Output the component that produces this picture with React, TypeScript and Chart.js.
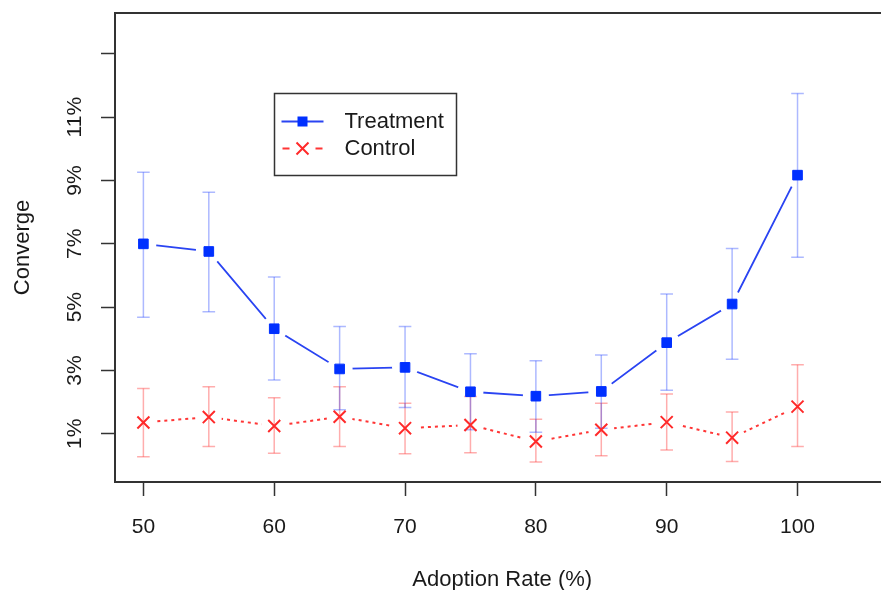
import React, { useEffect, useRef } from 'react';
import { Chart, registerables } from 'chart.js';

Chart.register(...registerables);

// ---- data ----
const adoptionRates = [50, 55, 60, 65, 70, 75, 80, 85, 90, 95, 100];
const treatmentMean = [7.0, 6.76, 4.32, 3.05, 3.1, 2.33, 2.19, 2.34, 3.88, 5.1, 9.17];
const treatmentLow = [4.68, 4.86, 2.7, 1.76, 1.83, 1.13, 1.05, 1.18, 2.38, 3.36, 6.58];
const treatmentHigh = [9.26, 8.63, 5.95, 4.39, 4.39, 3.53, 3.31, 3.49, 5.42, 6.85, 11.75];
const controlMean = [1.36, 1.53, 1.25, 1.54, 1.18, 1.28, 0.76, 1.13, 1.37, 0.88, 1.86];
const controlLow = [0.28, 0.6, 0.39, 0.6, 0.37, 0.4, 0.11, 0.31, 0.49, 0.13, 0.6];
const controlHigh = [2.43, 2.49, 2.14, 2.49, 1.97, 2.18, 1.46, 1.97, 2.26, 1.69, 3.18];
const xTicks = [50, 60, 70, 80, 90, 100];
const yTicks = [1, 3, 5, 7, 9, 11, 13];
const yTickLabels = ['1%', '3%', '5%', '7%', '9%', '11%', ''];
const seriesNames = ['Treatment', 'Control'];
const xTitle = 'Adoption Rate (%)';
const yTitle = 'Converge';

// ---- styles ----
const FONT = "'Liberation Sans', Arial, Helvetica, sans-serif";
const BLUE_MARK = '#0030ff';
const BLUE_LINE = '#2a44f2';
const BLUE_ERR = 'rgba(40,70,255,0.38)';
const RED_MARK = '#ff2a2a';
const RED_LINE = '#ff3535';
const RED_ERR = 'rgba(255,60,60,0.42)';
const AXIS_COLOR = '#333333';
const TEXT_COLOR = '#1a1a1a';
const GAP_RADIUS = 13;

const pts = (ys: number[]) => adoptionRates.map((x, i) => ({ x, y: ys[i] }));
const errPts = (lo: number[], hi: number[]) => {
  const out: { x: number; y: number | null }[] = [];
  adoptionRates.forEach((x, i) => {
    out.push({ x, y: lo[i] });
    out.push({ x, y: hi[i] });
    out.push({ x, y: null });
  });
  return out;
};

const zeroPad = (s: any) => {
  s.paddingTop = 0;
  s.paddingBottom = 0;
  s.paddingLeft = 0;
  s.paddingRight = 0;
};

// R's type = "b": the connecting line stops short of each point
const gapPlugin = {
  id: 'rGaps',
  afterDatasetDraw(chart: any, args: any) {
    if (args.index !== 0 && args.index !== 1) return;
    const { ctx, chartArea } = chart;
    const meta = chart.getDatasetMeta(args.index);
    ctx.save();
    ctx.beginPath();
    ctx.rect(chartArea.left + 1, chartArea.top + 1, chartArea.width - 2, chartArea.height - 2);
    ctx.clip();
    ctx.fillStyle = '#ffffff';
    meta.data.forEach((el: any) => {
      ctx.beginPath();
      ctx.arc(el.x, el.y, GAP_RADIUS, 0, Math.PI * 2);
      ctx.fill();
    });
    ctx.restore();
  },
};

const legendPlugin = {
  id: 'rLegend',
  afterDraw(chart: any) {
    const { ctx, scales } = chart;
    const left = Math.round(scales.x.getPixelForValue(59.95)) + 0.5;
    const top = Math.round(scales.y.getPixelForValue(11.77)) + 0.5;
    const w = 182;
    const h = 82;
    ctx.save();
    ctx.fillStyle = '#ffffff';
    ctx.fillRect(left, top, w, h);
    ctx.strokeStyle = AXIS_COLOR;
    ctx.lineWidth = 1.5;
    ctx.strokeRect(left, top, w, h);
    const rows = [top + 28, top + 55];
    const sx0 = left + 7;
    const sx1 = left + 49;
    const cx = left + 28;
    // Treatment
    ctx.strokeStyle = BLUE_LINE;
    ctx.lineWidth = 1.8;
    ctx.beginPath();
    ctx.moveTo(sx0, rows[0]);
    ctx.lineTo(sx1, rows[0]);
    ctx.stroke();
    ctx.fillStyle = BLUE_MARK;
    ctx.fillRect(cx - 5, rows[0] - 5, 10, 10);
    // Control
    ctx.strokeStyle = RED_LINE;
    ctx.lineWidth = 2;
    ctx.beginPath();
    ctx.moveTo(sx0 + 1, rows[1]);
    ctx.lineTo(sx0 + 8, rows[1]);
    ctx.moveTo(sx1 - 8, rows[1]);
    ctx.lineTo(sx1 - 1, rows[1]);
    ctx.stroke();
    ctx.strokeStyle = RED_MARK;
    ctx.beginPath();
    ctx.moveTo(cx - 6, rows[1] - 6);
    ctx.lineTo(cx + 6, rows[1] + 6);
    ctx.moveTo(cx + 6, rows[1] - 6);
    ctx.lineTo(cx - 6, rows[1] + 6);
    ctx.stroke();
    ctx.fillStyle = TEXT_COLOR;
    ctx.font = `22px ${FONT}`;
    ctx.textBaseline = 'middle';
    ctx.textAlign = 'left';
    ctx.fillText(seriesNames[0], left + 70, rows[0]);
    ctx.fillText(seriesNames[1], left + 70, rows[1]);
    ctx.restore();
  },
};

export default function App() {
  const ref = useRef<HTMLCanvasElement | null>(null);

  useEffect(() => {
    if (!ref.current) return;
    const chart = new Chart(ref.current, {
      type: 'scatter',
      data: {
        datasets: [
          // connecting lines (index 0, 1)
          {
            label: seriesNames[0] + ' line',
            data: pts(treatmentMean),
            showLine: true,
            borderColor: BLUE_LINE,
            borderWidth: 1.8,
            pointRadius: 0,
            order: 10,
          },
          {
            label: seriesNames[1] + ' line',
            data: pts(controlMean),
            showLine: true,
            borderColor: RED_LINE,
            borderWidth: 2,
            borderDash: [3, 4],
            pointRadius: 0,
            order: 10,
          },
          // error bars
          {
            label: seriesNames[0] + ' err',
            data: errPts(treatmentLow, treatmentHigh),
            showLine: true,
            spanGaps: false,
            borderColor: BLUE_ERR,
            borderWidth: 1.5,
            pointStyle: 'line',
            pointRadius: 6.3,
            pointBorderColor: BLUE_ERR,
            pointBorderWidth: 1.5,
            order: 8,
          },
          {
            label: seriesNames[1] + ' err',
            data: errPts(controlLow, controlHigh),
            showLine: true,
            spanGaps: false,
            borderColor: RED_ERR,
            borderWidth: 1.5,
            pointStyle: 'line',
            pointRadius: 6.3,
            pointBorderColor: RED_ERR,
            pointBorderWidth: 1.5,
            order: 8,
          },
          // markers
          {
            label: seriesNames[0],
            data: pts(treatmentMean),
            showLine: false,
            pointStyle: 'rect',
            pointRadius: 6.8,
            pointBackgroundColor: BLUE_MARK,
            pointBorderColor: BLUE_MARK,
            pointBorderWidth: 1,
            order: 1,
          },
          {
            label: seriesNames[1],
            data: pts(controlMean),
            showLine: false,
            pointStyle: 'crossRot',
            pointRadius: 8.5,
            pointBorderColor: RED_MARK,
            pointBorderWidth: 2,
            order: 1,
          },
        ] as any,
      },
      options: {
        animation: false,
        responsive: true,
        maintainAspectRatio: false,
        events: [],
        layout: { padding: { top: 13, right: 7, left: 0, bottom: 0 } },
        plugins: {
          legend: { display: false },
          tooltip: { enabled: false },
        },
        scales: {
          x: {
            type: 'linear',
            position: 'bottom',
            min: 47.83,
            max: 107.03,
            afterBuildTicks: (s: any) => {
              s.ticks = xTicks.map((v) => ({ value: v }));
            },
            afterFit: (s: any) => {
              s.height = 108;
              zeroPad(s);
            },
            grid: {
              drawOnChartArea: false,
              drawTicks: true,
              tickLength: 14,
              tickColor: AXIS_COLOR,
              tickWidth: 1.5,
            },
            border: { display: true, color: AXIS_COLOR, width: 2 },
            ticks: {
              color: TEXT_COLOR,
              font: { family: FONT, size: 21 },
              padding: 19,
              maxRotation: 0,
              callback: (v: any) => String(v),
            },
            title: {
              display: true,
              text: xTitle,
              color: TEXT_COLOR,
              font: { family: FONT, size: 22, lineHeight: 1 },
              padding: { top: 0, bottom: -1 },
            },
          },
          x2: {
            type: 'linear',
            position: 'top',
            afterFit: (s: any) => {
              s.height = 0;
              zeroPad(s);
            },
            grid: { display: true, drawOnChartArea: false, drawTicks: false },
            border: { display: true, color: AXIS_COLOR, width: 2 },
            ticks: { display: false },
          },
          y: {
            type: 'linear',
            position: 'left',
            min: -0.52,
            max: 14.29,
            afterBuildTicks: (s: any) => {
              s.ticks = yTicks.map((v) => ({ value: v }));
            },
            afterFit: (s: any) => {
              s.width = 115;
              zeroPad(s);
            },
            grid: {
              drawOnChartArea: false,
              drawTicks: true,
              tickLength: 14,
              tickColor: AXIS_COLOR,
              tickWidth: 1.5,
            },
            border: { display: true, color: AXIS_COLOR, width: 2 },
            ticks: {
              color: TEXT_COLOR,
              font: { family: FONT, size: 21 },
              padding: 6,
              minRotation: 90,
              maxRotation: 90,
              crossAlign: 'center',
              callback: (v: any) => {
                const i = yTicks.indexOf(Number(v));
                return i >= 0 ? yTickLabels[i] : '';
              },
            },
            title: {
              display: true,
              text: yTitle,
              color: TEXT_COLOR,
              font: { family: FONT, size: 22 },
              padding: { top: 10, bottom: 0 },
            },
          },
        },
      } as any,
      plugins: [gapPlugin, legendPlugin],
    });
    return () => chart.destroy();
  }, []);

  return (
    <div
      style={{
        position: 'fixed',
        left: 0,
        top: 0,
        width: 881,
        height: 590,
        overflow: 'hidden',
        background: '#ffffff',
      }}
    >
      <div style={{ position: 'relative', width: 900, height: 590 }}>
        <canvas ref={ref} />
      </div>
    </div>
  );
}
